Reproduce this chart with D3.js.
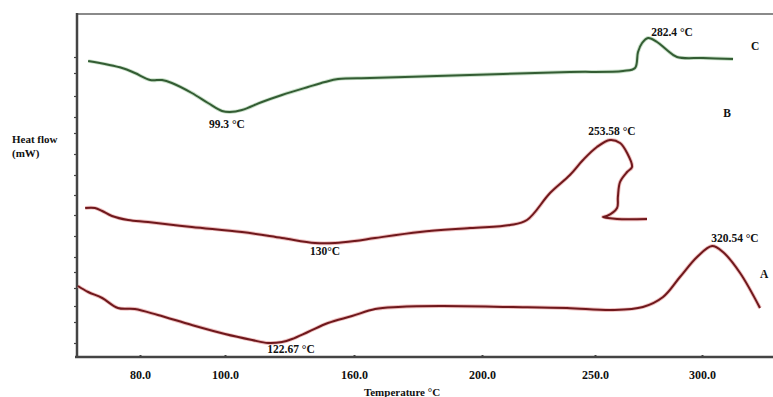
<!DOCTYPE html>
<html>
<head>
<meta charset="utf-8">
<style>
    body { margin: 0; background: white; }
    text { font-family: "Liberation Serif", "DejaVu Serif", serif; font-weight: bold; fill: #111; }
    .axis path, .axis line { stroke: #444; }
</style>
</head>
<body>
<div id="plateau"></div>
<script src="https://cdn.jsdelivr.net/npm/d3@7/dist/d3.min.js"></script>
<script>

//////////////////// donnees ////////////////////
// axe x : graduations du graphique (espacement irregulier dans l'original)
const X_TICKS = [80, 100, 160, 200, 250, 300];
const Y_TICKS = [1.4, 3.5, 5.1, 6.9, 8.5, 10.0, 12.1, 14.2, 16.2, 18.2, 20.3, 22.4, 24.0, 26.1, 28.4, 30.0];

// courbe C (verte)
const tempC = [67.8, 75.8, 78.8, 82.4, 85.2, 87.5, 92.2, 96.0, 99.3, 102.3, 107.9, 117.2, 126.5, 138.6, 146.5, 152.6,
    165.0, 185.9, 209.3, 238.9, 263.1, 268.7, 270.1, 272.0, 274.8, 279.0, 283.6, 288.3, 300.5, 314.5];
const fluxC = [29.6, 28.9, 28.4, 27.7, 27.7, 27.4, 26.4, 25.4, 24.6, 24.5, 24.7, 25.5, 26.2, 27.0, 27.5, 27.8,
    27.9, 28.1, 28.3, 28.5, 28.6, 28.9, 30.5, 31.4, 31.9, 31.5, 30.7, 30.0, 29.9, 29.8];

// courbe B (rouge, fait une boucle apres le pic)
const tempB = [67.1, 69.4, 71.1, 73.4, 77.2, 81.9, 92.2, 107.9, 126.5, 141.9, 151.2, 160.3, 166.6, 180.6, 196.3,
    212.4, 219.9, 230.1, 238.9, 244.7, 250.9, 257.0, 261.7, 265.0, 267.3, 265.0, 261.7, 260.7, 260.3, 255.6, 253.7, 260.3, 274.3];
const fluxB = [14.9, 14.9, 14.6, 14.1, 13.7, 13.5, 13.0, 12.5, 11.9, 11.4, 11.4, 11.6, 11.9, 12.5, 12.9,
    13.2, 13.7, 16.4, 18.2, 19.7, 21.0, 21.7, 21.4, 20.4, 19.0, 18.5, 17.5, 16.0, 14.9, 14.1, 14.0, 13.8, 13.8];

// courbe A (rouge)
const tempA = [65.4, 67.8, 71.1, 74.8, 78.8, 84.2, 92.2, 100.0, 112.6, 120.0, 126.5, 131.2, 138.6, 147.9, 159.1, 166.6,
    173.8, 186.9, 213.7, 237.6, 258.4, 272.4, 281.8, 289.7, 297.7, 304.7, 309.8, 317.8, 327.1];
const fluxA = [7.1, 6.5, 5.9, 4.9, 4.8, 4.2, 3.2, 2.3, 1.7, 1.4, 1.5, 1.8, 2.5, 3.4, 4.1, 4.8,
    5.0, 5.1, 5.0, 4.9, 4.7, 5.0, 6.0, 8.0, 10.0, 11.1, 10.5, 8.4, 4.9];

// annotations (texte, temperature, flux)
const ANNOT_TEXT = ['282.4 °C', 'C', '99.3 °C', 'B', '253.58 °C', '130°C', '320.54 °C', 'A', '122.67 °C'];
const ANNOT_T = [286.0, 324.8, 100.9, 311.7, 257.9, 146.5, 315.4, 329.0, 130.7];
const ANNOT_F = [32.5, 31.1, 23.3, 24.4, 22.6, 10.6, 11.9, 8.3, 0.8];

//////////////////// mise en page ////////////////////
const W = 773, H = 397;
const X_LEFT = 77, X_RIGHT = 773, Y_TOP = 14, Y_BOTTOM = 357;

// echelle lineaire par morceaux : les graduations de l'original ne sont pas regulieres
let x = d3.scaleLinear()
    .domain(X_TICKS)
    .range([140, 225, 354, 482, 595, 702]);

let y = d3.scaleLinear()
    .domain([0, 34.3])
    .range([Y_BOTTOM, Y_TOP]);

let svg = d3.select('#plateau').append('svg')
    .attr('width', W)
    .attr('height', H);

// cadre haut
svg.append('line')
    .attr('x1', X_LEFT).attr('x2', X_RIGHT)
    .attr('y1', Y_TOP).attr('y2', Y_TOP)
    .attr('stroke', '#8a8a8a')
    .attr('stroke-width', 2);

// axe x
let xAxis = svg.append('g')
    .classed('axis', true)
    .attr('transform', `translate(0, ${Y_BOTTOM})`)
    .call(d3.axisBottom(x).tickValues(X_TICKS).tickFormat(d3.format('.1f')).tickSizeInner(-2).tickSizeOuter(0).tickPadding(13));
xAxis.select('.domain')
    .attr('d', `M${75},0H${X_RIGHT}`)
    .attr('stroke-width', 2.5);
xAxis.selectAll('.tick line').attr('stroke-width', 2);
xAxis.selectAll('text')
    .attr('font-size', 12)
    .attr('font-family', null)
    .attr('fill', null);

// axe y (sans etiquettes)
let yAxis = svg.append('g')
    .classed('axis', true)
    .attr('transform', `translate(${X_LEFT}, 0)`)
    .call(d3.axisLeft(y).tickValues(Y_TICKS).tickFormat('').tickSizeInner(3).tickSizeOuter(0));
yAxis.select('.domain')
    .attr('d', `M0,${Y_TOP - 1}V${Y_BOTTOM + 1}`)
    .attr('stroke-width', 2.5);
yAxis.selectAll('.tick line').attr('stroke-width', 1.2);

// titres des axes
svg.append('text')
    .attr('x', 12).attr('y', 143)
    .attr('font-size', 11)
    .text('Heat flow');
svg.append('text')
    .attr('x', 12).attr('y', 157)
    .attr('font-size', 11)
    .text('(mW)');
svg.append('text')
    .attr('x', 402).attr('y', 396)
    .attr('text-anchor', 'middle')
    .attr('font-size', 11)
    .text('Temperature °C');

//////////////////// courbes ////////////////////
let line = d3.line()
    .x(d => x(d[0]))
    .y(d => y(d[1]))
    .curve(d3.curveCatmullRom.alpha(0.5));

function drawCurve(temps, flux, halo, core) {
    let pts = temps.map((t, i) => [t, flux[i]]);
    svg.append('path')
        .attr('d', line(pts))
        .attr('fill', 'none')
        .attr('stroke', halo)
        .attr('stroke-width', 3.8)
        .attr('stroke-linejoin', 'round')
        .attr('opacity', 0.55);
    svg.append('path')
        .attr('d', line(pts))
        .attr('fill', 'none')
        .attr('stroke', core)
        .attr('stroke-width', 2)
        .attr('stroke-linejoin', 'round');
}

drawCurve(tempC, fluxC, '#9cc79c', '#335c33');
drawCurve(tempB, fluxB, '#e08a8a', '#6f181c');
drawCurve(tempA, fluxA, '#e08a8a', '#6f181c');

//////////////////// annotations ////////////////////
ANNOT_TEXT.forEach((txt, i) => {
    svg.append('text')
        .attr('x', x(ANNOT_T[i]))
        .attr('y', y(ANNOT_F[i]) + 4)
        .attr('text-anchor', 'middle')
        .attr('font-size', 11.5)
        .text(txt);
});

</script>
</body>
</html>
